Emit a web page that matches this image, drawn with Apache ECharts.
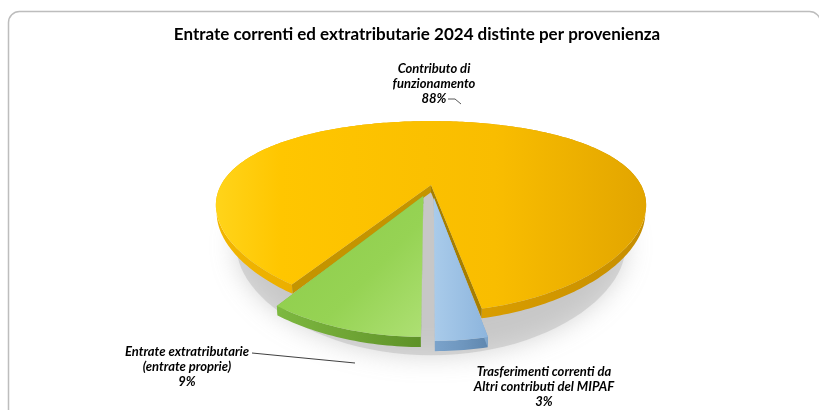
<!DOCTYPE html>
<html><head><meta charset="utf-8">
<script src="https://cdn.jsdelivr.net/npm/echarts@6/dist/echarts.min.js"></script>
<style>html,body{margin:0;padding:0;background:#fff}#c{width:819px;height:410px}</style>
</head><body><div id="c"></div>
<script>
// ---- data ----
const chartTitle = 'Entrate correnti ed extratributarie 2024 distinte per provenienza';
const categories = ['Contributo di funzionamento', 'Trasferimenti correnti da Altri contributi del MIPAF', 'Entrate extratributarie (entrate proprie)'];
const labelLines = [['Contributo di', 'funzionamento'], ['Trasferimenti correnti da', 'Altri contributi del MIPAF'], ['Entrate extratributarie', '(entrate proprie)']];
const values = [88, 3, 9];

// ---- layout / style ----
const CX = 431, CY = 185, R = 210, SINA = 0.405, D = 582, H = 8, START = 212.4, KX = 0.65;
const COSA = Math.sqrt(1 - SINA * SINA);
const explode = [0, 30, 27];
const sliceStyle = [
  { top: [[0, '#FFD41A'], [0.15, '#FFC600'], [0.65, '#F9BD00'], [1, '#E2A500']], side: ['#F2B600', '#DFA200', '#C68E00'], wallA: '#C49400', wallB: '#A67E00' },
  { top: [[0, '#A9CBEA'], [1, '#8DB5DD']], side: ['#7BA3CB', '#6F97BF', '#5F87AF'], wallA: '#7FA6CC', wallB: '#7FA6CC' },
  { top: [[0, '#8CCB48'], [0.6, '#96D354'], [1, '#AEE074']], side: ['#7DB840', '#6FA535', '#5E9228'], wallA: '#7DB840', wallB: '#7DB840' }
];
const labelPos = [[434, 61], [544, 364], [187, 344]];
const total = values.reduce((a, b) => a + b, 0);

function proj(x, y, z) {
  const yc = y * COSA - z * SINA;
  const zc = y * SINA + z * COSA;
  const s = D / (D - zc);
  return [CX + x * Math.pow(s, KX), CY - yc * s];
}
function rad(d) { return d * Math.PI / 180; }

function renderItem(params, api) {
  const i = params.dataIndex;
  let cum = 0;
  for (let k = 0; k < i; k++) cum += values[k];
  const v = api.value(1);
  const a0 = START + 360 * cum / total;
  const a1 = a0 + 360 * v / total;
  const am = rad((a0 + a1) / 2);
  const ox = explode[i] * Math.sin(am), oz = -explode[i] * Math.cos(am);
  const rim = (a, y) => proj(ox + R * Math.sin(rad(a)), y, oz - R * Math.cos(rad(a)));
  const arcT = [], arcB = [];
  const n = Math.max(2, Math.ceil((a1 - a0) / 1));
  for (let k = 0; k <= n; k++) {
    const a = a0 + (a1 - a0) * k / n;
    arcT.push(rim(a, 0));
    arcB.push(rim(a, -H));
  }
  const apexT = proj(ox, 0, oz), apexB = proj(ox, -H, oz);
  const st = sliceStyle[i];
  const base = i === 0 ? 1 : 3;
  const children = [];
  if (i === 0) {
    // soft shadow under the pie
    const sh = [];
    for (let a = 0; a < 360; a += 3) {
      sh.push(proj(R * 0.9 * Math.sin(rad(a)), -H - 26, -R * 0.9 * Math.cos(rad(a)) + 24));
    }
    children.push({ type: 'polygon', z2: 0, shape: { points: sh },
      style: { fill: 'rgba(185,185,185,0.5)', shadowBlur: 26, shadowColor: 'rgba(150,150,150,0.8)' } });
  }
  children.push({ type: 'polygon', z2: base, shape: { points: arcT.concat(arcB.slice().reverse()) },
    style: { fill: new echarts.graphic.LinearGradient(0, 0, 1, 0, [{ offset: 0, color: st.side[0] }, { offset: 0.5, color: st.side[1] }, { offset: 1, color: st.side[2] }]) } });
  children.push({ type: 'polygon', z2: base, shape: { points: [apexT, arcT[0], arcB[0], apexB] }, style: { fill: st.wallA } });
  children.push({ type: 'polygon', z2: base, shape: { points: [apexT, arcT[n], arcB[n], apexB] }, style: { fill: st.wallB } });
  children.push({ type: 'polygon', z2: base + 1, shape: { points: [apexT].concat(arcT) },
    style: { fill: new echarts.graphic.LinearGradient(0, 0, 1, i === 2 ? 1 : 0, st.top.map(s => ({ offset: s[0], color: s[1] }))) } });
  return { type: 'group', children };
}

const graphics = [
  { type: 'rect', shape: { x: 8.5, y: 11.5, width: 812, height: 412, r: 11 }, style: { fill: 'none', stroke: '#BDBDBD', lineWidth: 1.5 } },
  { type: 'text', x: 417, y: 35, style: { text: chartTitle, font: 'bold 17px Lato', fill: '#000', align: 'center', verticalAlign: 'middle' } },
  { type: 'polyline', shape: { points: [[448, 99], [455, 99], [461, 104]] }, style: { stroke: '#595959', lineWidth: 1, fill: 'none' } },
  { type: 'line', shape: { x1: 252, y1: 353, x2: 355, y2: 363 }, style: { stroke: '#404040', lineWidth: 1 } }
];
values.forEach((v, i) => {
  const pct = Math.round(v / total * 100) + '%';
  graphics.push({ type: 'text', x: labelPos[i][0], y: labelPos[i][1],
    style: { text: labelLines[i].concat([pct]).join('\n'), font: 'italic bold 13px Lato', fill: '#000', align: 'center', verticalAlign: 'top', lineHeight: 15 } });
});

const chart = echarts.init(document.getElementById('c'), null, { renderer: 'canvas' });
chart.setOption({
  backgroundColor: '#fff',
  animation: false,
  graphic: graphics,
  series: [{
    type: 'custom',
    coordinateSystem: 'none',
    renderItem,
    data: categories.map((c, i) => ({ name: c, value: [i, values[i]] }))
  }]
});
</script></body></html>
